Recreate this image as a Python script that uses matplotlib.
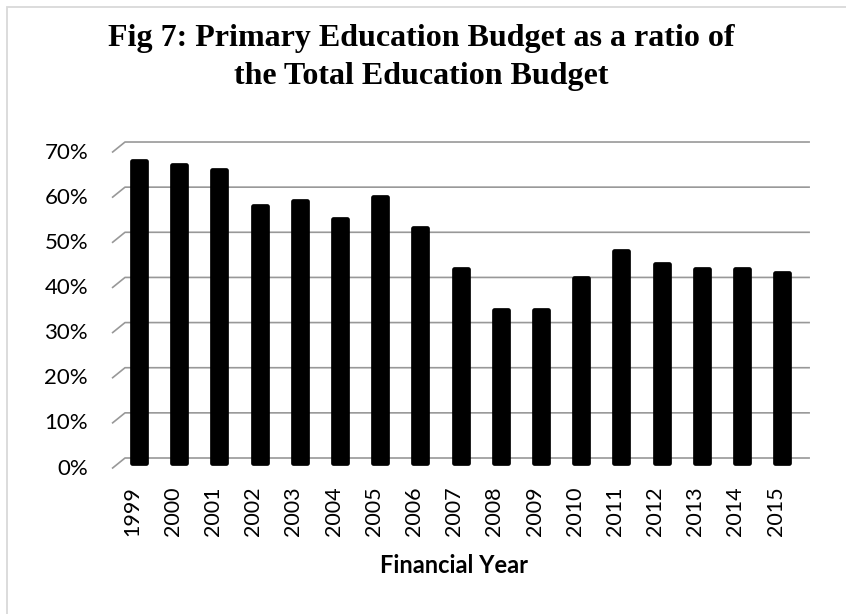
import matplotlib
matplotlib.use("Agg")
import matplotlib.pyplot as plt
from matplotlib.patches import Rectangle

# Financial years and primary-education share of the total education budget
years = ["1999", "2000", "2001", "2002", "2003", "2004", "2005", "2006", "2007",
         "2008", "2009", "2010", "2011", "2012", "2013", "2014", "2015"]
shares = [0.67, 0.66, 0.65, 0.57, 0.58, 0.54, 0.59, 0.52, 0.43,
          0.34, 0.34, 0.41, 0.47, 0.44, 0.43, 0.43, 0.42]
y_ticks = [0.0, 0.1, 0.2, 0.3, 0.4, 0.5, 0.6, 0.7]
y_tick_labels = ["0%", "10%", "20%", "30%", "40%", "50%", "60%", "70%"]

W, H = 846, 614
fig = plt.figure(figsize=(W / 100, H / 100), dpi=100)
fig.patch.set_facecolor("white")

# light chart-area border (left and top edges visible)
fig.add_artist(Rectangle((7 / W, -0.1), 2.0, (1 - 7 / H) + 0.1,
                         transform=fig.transFigure, fill=False,
                         edgecolor="#d9d9d9", linewidth=1.3))

# plot area in pixels
left_px, right_px, top_px, bottom_px = 105, 815, 135, 470
ax = fig.add_axes([left_px / W, (H - bottom_px) / H,
                   (right_px - left_px) / W, (bottom_px - top_px) / H])
ax.set_xlim(-0.846, 16.816)
ax.set_ylim(-0.0155, 0.7266)
ax.axis("off")

# pseudo-3D depth: gridlines sit on the back wall, labels on the front edge
px_x = 40.2            # pixels per category
px_y = 451.4           # pixels per unit of ratio
dx = 6.5 / px_x
dy_back = 5.0 / px_y
dy_front = 5.5 / px_y
x_wall = -0.51
x_end = 16.69
for v in y_ticks:
    ax.plot([x_wall - dx, x_wall + dx, x_end],
            [v - dy_front, v + dy_back, v + dy_back],
            color="#989898", linewidth=1.2, solid_capstyle="butt", zorder=1)

# y tick labels at the front edge
y_trans = ax.get_yaxis_transform()
for v, lab in zip(y_ticks, y_tick_labels):
    ax.text((88 - left_px) / (right_px - left_px), v - dy_front, lab,
            transform=y_trans, ha="right", va="center",
            fontsize=16, family="Lato", color="#000000")

# columns with rounded tops
xs = list(range(len(years)))
ax.bar(xs, shares, width=0.35, color="#000000", edgecolor="#000000",
       linewidth=3.4, joinstyle="round", zorder=3)

# year labels, rotated, along the front edge
x_trans = ax.get_xaxis_transform()
for x, lab in zip(xs, years):
    ax.text(x - dx, (bottom_px - 486) / (bottom_px - top_px), lab,
            transform=x_trans, rotation=90, ha="center", va="top",
            fontsize=15.5, family="Lato", color="#000000")

fig.text(453.5 / W, 1 - 573 / H, "Financial Year", ha="center", va="baseline",
         fontsize=17, fontweight="bold", family="Lato", color="#000000")

fig.text(421 / W, 1 - 24 / H,
         "Fig 7: Primary Education Budget as a ratio of\nthe Total Education Budget",
         ha="center", va="top", fontsize=23, fontweight="bold",
         family="Liberation Serif", linespacing=1.4, color="#000000")

fig.savefig("out.png", dpi=100, facecolor="white")
